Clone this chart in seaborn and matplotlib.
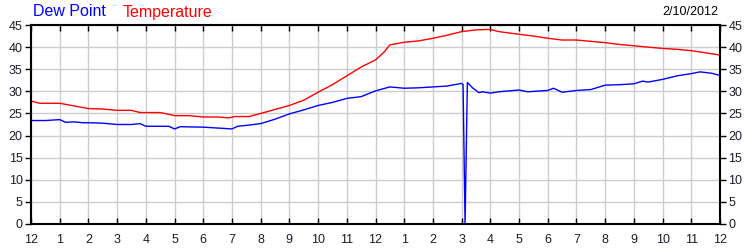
import matplotlib
matplotlib.use("Agg")
import matplotlib.pyplot as plt
import seaborn as sns
import pandas as pd

# ---- data (hours since midnight) ----
temp_hours = [0, 0.3, 1.0, 1.5, 2.0, 2.5, 3.0, 3.5, 3.8, 4.5, 4.8, 5.0, 5.5, 6.0, 6.5, 6.9,
              7.1, 7.6, 8.0, 8.5, 9.0, 9.5, 10.0, 10.5, 11.0, 11.5, 12.0, 12.3, 12.5, 13.0,
              13.5, 14.0, 14.5, 15.0, 15.5, 16.0, 16.3, 17.0, 17.5, 18.0, 18.5, 19.0, 19.5,
              20.0, 20.5, 21.0, 21.5, 22.0, 22.5, 23.0, 23.5, 24.0]
temp_values = [27.8, 27.3, 27.3, 26.7, 26.1, 26.0, 25.7, 25.7, 25.2, 25.2, 24.8, 24.5, 24.5,
               24.2, 24.2, 24.0, 24.3, 24.3, 25.0, 25.9, 26.8, 28.0, 29.8, 31.5, 33.5, 35.5,
               37.1, 38.9, 40.5, 41.1, 41.4, 42.0, 42.7, 43.5, 43.9, 44.0, 43.5, 42.9, 42.5,
               42.0, 41.6, 41.6, 41.3, 41.0, 40.6, 40.3, 40.0, 39.7, 39.5, 39.2, 38.7, 38.2]

dew_hours = [0, 0.5, 1.0, 1.2, 1.5, 1.8, 2.0, 2.5, 3.0, 3.5, 3.8, 4.0, 4.8, 5.0, 5.2, 6.0,
             6.5, 7.0, 7.2, 7.5, 8.0, 8.5, 9.0, 9.5, 10.0, 10.5, 11.0, 11.5, 12.0, 12.5,
             13.0, 13.5, 14.0, 14.5, 15.0, 15.05, 15.12, 15.2, 15.38, 15.6, 15.73, 16.0,
             16.3, 17.0, 17.3, 18.0, 18.2, 18.5, 19.0, 19.5, 20.0, 20.5, 21.0, 21.3, 21.5,
             22.0, 22.5, 23.0, 23.3, 23.7, 24.0]
dew_values = [23.4, 23.4, 23.6, 23.0, 23.1, 22.9, 22.9, 22.8, 22.5, 22.5, 22.7, 22.1, 22.1,
              21.5, 22.0, 21.9, 21.7, 21.5, 22.1, 22.3, 22.7, 23.7, 24.9, 25.8, 26.8, 27.5,
              28.4, 28.8, 30.1, 31.0, 30.7, 30.8, 31.0, 31.2, 31.8, 31.5, 0.0, 32.0, 30.8,
              29.7, 29.9, 29.6, 29.9, 30.3, 29.9, 30.2, 30.7, 29.8, 30.2, 30.4, 31.4, 31.5,
              31.7, 32.3, 32.1, 32.7, 33.5, 34.0, 34.4, 34.1, 33.6]

x_ticks = list(range(0, 25))
x_labels = ["12", "1", "2", "3", "4", "5", "6", "7", "8", "9", "10", "11",
            "12", "1", "2", "3", "4", "5", "6", "7", "8", "9", "10", "11", "12"]
y_ticks = [0, 5, 10, 15, 20, 25, 30, 35, 40, 45]
series_names = ["Dew Point", "Temperature"]
series_colors = ["#0000ff", "#ff0000"]
date_label = "2/10/2012"

df = pd.concat([
    pd.DataFrame({"hour": dew_hours, "value": dew_values, "series": series_names[0]}),
    pd.DataFrame({"hour": temp_hours, "value": temp_values, "series": series_names[1]}),
])

sns.set_theme(style="white")
plt.rcParams["font.family"] = ["Liberation Sans", "DejaVu Sans"]

fig = plt.figure(figsize=(7.5, 2.5), dpi=100)
ax = fig.add_axes([31 / 750, 26 / 250, 689 / 750, 199 / 250])

sns.lineplot(data=df, x="hour", y="value", hue="series",
             palette=dict(zip(series_names, series_colors)),
             estimator=None, sort=False, linewidth=1.0, legend=False, ax=ax)

ax.set_xlim(0, 24)
ax.set_ylim(0, 45)
ax.set_xticks(x_ticks)
ax.set_xticklabels(x_labels)
ax.set_yticks(y_ticks)
ax.set_xlabel("")
ax.set_ylabel("")
ax.grid(True, color="#cccccc", linewidth=1.0)
ax.set_axisbelow(True)
for sp in ax.spines.values():
    sp.set_color("black")
    sp.set_linewidth(1.5)

ax.tick_params(axis="x", direction="in", top=True, bottom=True, length=4, width=1,
               color="black", labelsize=9, pad=7, labelcolor="#1a1a2e")
ax.tick_params(axis="y", direction="out", left=True, right=True, labelright=True,
               length=4, width=1, color="black", labelsize=9, pad=2, labelcolor="#1a1a2e")

fig.text(33 / 750, 1 - 12 / 250, series_names[0], color=series_colors[0],
         fontsize=11.5, va="center", ha="left")
fig.text(123 / 750, 1 - 12 / 250, series_names[1], color=series_colors[1],
         fontsize=11.5, va="center", ha="left")
fig.text(718 / 750, 1 - 12 / 250, date_label, color="black",
         fontsize=9, va="center", ha="right")

fig.savefig("out.png", dpi=100, facecolor="white")
